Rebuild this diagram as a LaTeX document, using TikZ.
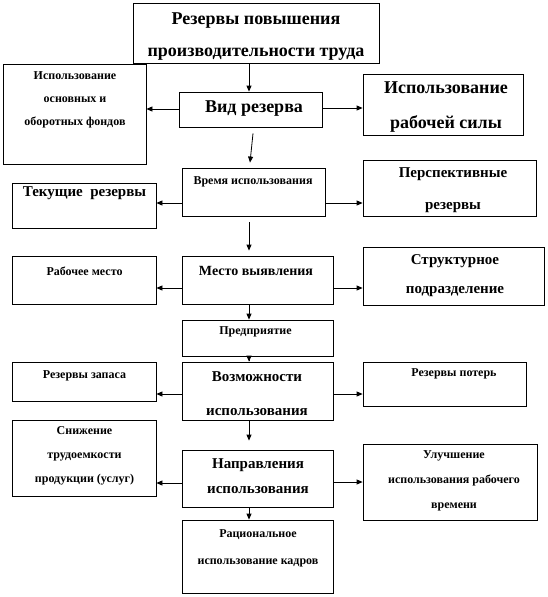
\documentclass[tikz,border=0pt]{standalone}
\usepackage{fontspec}
\setmainfont{Liberation Serif}
\usetikzlibrary{arrows.meta}
\newcommand\mkbox[5]{\node[box, minimum width={#4pt-#2pt}, minimum height={#5pt-#3pt}] (#1) at ({(#2+#4)/2},{(#3+#5)/2}) {};}
\begin{document}
\begin{tikzpicture}[x=1pt,y=-1pt,
  box/.style={draw, line width=0.8pt, inner sep=0pt, fill=white},
  arr/.style={draw, line width=0.8pt, -{Triangle[length=6pt,width=5pt]}},
  txt/.style 2 args={font=\bfseries\fontsize{#1}{#2}\selectfont, align=center, inner sep=0pt}]
\useasboundingbox (0,0) rectangle (547,597);
\fill[white] (0,0) rectangle (547,597);
% boxes
\mkbox{top}{133}{3}{379}{63}
\mkbox{fonds}{3}{64}{146}{164}
\mkbox{vid}{179}{92}{322}{127}
\mkbox{sila}{363}{74}{523}{135}
\mkbox{vremya}{182}{168}{325}{216}
\mkbox{tekush}{12}{183}{156}{228}
\mkbox{persp}{363}{160}{536}{216}
\mkbox{rabm}{12}{256}{156}{304}
\mkbox{mesto}{182}{256}{333}{304}
\mkbox{struct}{363}{247}{544}{305}
\mkbox{predpr}{182}{320}{333}{356}
\mkbox{vozm}{182}{362}{333}{420}
\mkbox{zapas}{12}{362}{156}{401}
\mkbox{poter}{363}{362}{526}{406}
\mkbox{snizh}{12}{420}{156}{496}
\mkbox{naprav}{182}{450}{333}{507}
\mkbox{uluch}{363}{444}{537}{520}
\mkbox{rac}{182}{520}{333}{593}
% texts
\node[txt={18}{32}] (t-top) at (256,37) {Резервы повышения\\производительности труда};
\node[txt={12}{23}] (t-fonds) at (75,100) {Использование\\основных и\\оборотных фондов};
\node[txt={18}{22}] (t-vid) at (254,109) {Вид резерва};
\node[txt={18}{35}] (t-sila) at (446,107.5) {Использование\\рабочей силы};
\node[txt={12}{22}] (t-vremya) at (253,182) {Время использования};
\node[txt={15}{20}] (t-tekush) at (84.5,193) {Текущие~~резервы};
\node[txt={15}{32}] (t-persp) at (453,190) {Перспективные\\резервы};
\node[txt={12}{22}] (t-rabm) at (84.5,271) {Рабочее место};
\node[txt={14}{22}] (t-mesto) at (256,271) {Место выявления};
\node[txt={15}{29}] (t-struct) at (455,275.5) {Структурное\\подразделение};
\node[txt={12}{22}] (t-predpr) at (255.5,332) {Предприятие};
\node[txt={15}{34}] (t-vozm) at (257,394) {Возможности\\использования};
\node[txt={12}{22}] (t-zapas) at (84.5,376) {Резервы запаса};
\node[txt={12}{22}] (t-poter) at (454,374) {Резервы потерь};
\node[txt={12}{24}] (t-snizh) at (84.5,456) {Снижение\\трудоемкости\\продукции (услуг)};
\node[txt={15}{25}] (t-naprav) at (258,476.5) {Направления\\использования};
\node[txt={12}{25}] (t-uluch) at (454,481) {Улучшение\\использования рабочего\\времени};
\node[txt={12}{27}] (t-rac) at (258,548.5) {Рациональное\\использование кадров};
% connectors
\coordinate (ax) at (249,0);
\draw[arr] (top.south -| ax) -- (vid.north -| ax);
\draw[arr] ([xshift=2.5pt,yshift=-6pt]vid.south) -- ([xshift=-3.5pt,yshift=5pt]vremya.north);
\draw[arr, shorten <=6pt, shorten >=5pt] (vremya.south -| ax) -- (mesto.north -| ax);
\draw[arr] (mesto.south -| ax) -- (predpr.north -| ax);
\draw[arr, shorten <=-5pt] (predpr.south -| ax) -- (vozm.north -| ax);
\draw[arr, shorten >=9pt] (vozm.south -| ax) -- (naprav.north -| ax);
\draw[arr] (naprav.south -| ax) -- (rac.north -| ax);
\draw[arr] (vid.west |- 0,109) -- (fonds.east |- 0,109);
\draw[arr] (vid.east |- 0,108) -- (sila.west |- 0,108);
\draw[arr] (vremya.west |- 0,203) -- (tekush.east |- 0,203);
\draw[arr] (vremya.east |- 0,203) -- (persp.west |- 0,203);
\draw[arr] (mesto.west |- 0,288) -- (rabm.east |- 0,288);
\draw[arr] (mesto.east |- 0,288) -- (struct.west |- 0,288);
\draw[arr] (vozm.west |- 0,394) -- (zapas.east |- 0,394);
\draw[arr] (vozm.east |- 0,394) -- (poter.west |- 0,394);
\draw[arr] (naprav.west |- 0,483) -- (snizh.east |- 0,483);
\draw[arr] (naprav.east |- 0,482) -- (uluch.west |- 0,482);
\end{tikzpicture}
\end{document}
